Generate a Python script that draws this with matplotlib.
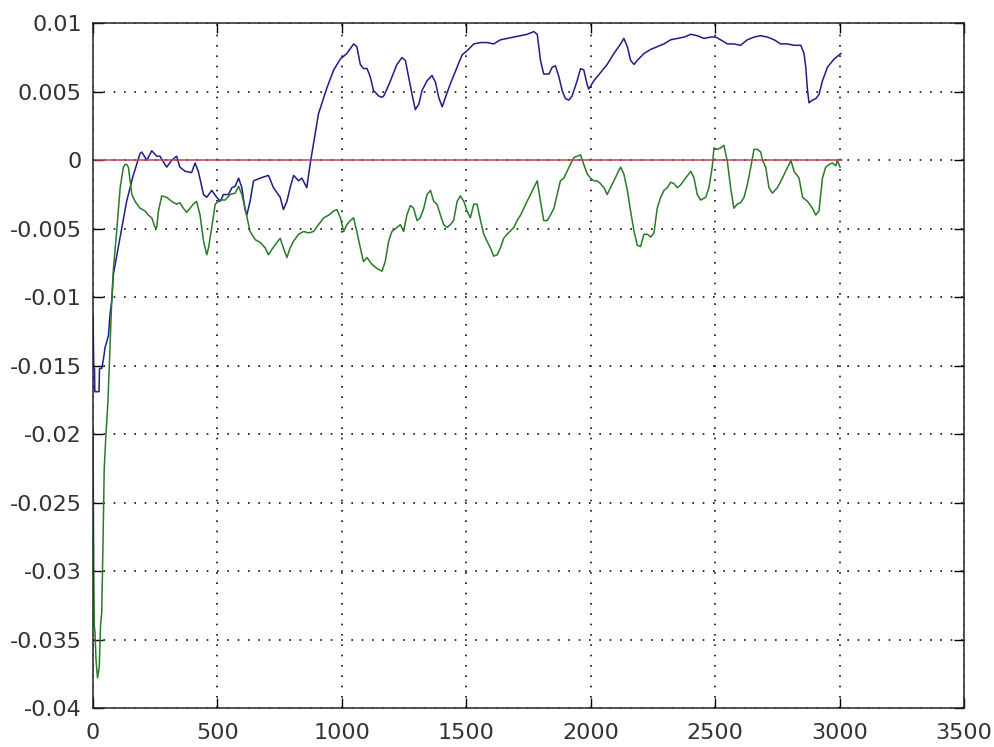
import matplotlib
matplotlib.use("Agg")
import matplotlib.pyplot as plt

# blue trace
blue_x = [0, 3, 6, 7, 24, 26, 35, 42, 48, 62, 68, 75, 82, 110, 135, 160, 189, 196, 216, 236,
          256, 269, 296, 316, 336, 349, 370, 396, 410, 423, 444, 457, 477, 497, 511, 524,
          544, 558, 571, 585, 598, 611, 618, 631, 645, 672, 705, 725, 752, 765, 779, 792,
          806, 826, 839, 859, 873, 886, 906, 940, 967, 994, 1020, 1047, 1060, 1074, 1087,
          1101, 1114, 1127, 1148, 1161, 1168, 1181, 1195, 1208, 1221, 1241, 1255, 1268,
          1282, 1295, 1309, 1322, 1342, 1362, 1376, 1389, 1403, 1416, 1436, 1463, 1483,
          1503, 1530, 1557, 1583, 1610, 1637, 1664, 1691, 1718, 1744, 1771, 1785, 1798,
          1811, 1832, 1845, 1858, 1872, 1885, 1898, 1912, 1925, 1945, 1959, 1972, 1986,
          1992, 2012, 2039, 2066, 2093, 2120, 2133, 2147, 2160, 2174, 2187, 2214, 2241,
          2267, 2294, 2321, 2348, 2375, 2402, 2428, 2455, 2482, 2502, 2522, 2549, 2575,
          2602, 2629, 2656, 2683, 2710, 2737, 2763, 2790, 2817, 2844, 2857, 2864, 2870,
          2877, 2891, 2904, 2917, 2931, 2951, 2978, 2998, 3005]
blue_y = [-0.0113, -0.0152, -0.0152, -0.0169, -0.0169, -0.0152, -0.0152, -0.0145, -0.0137,
          -0.0128, -0.0113, -0.0103, -0.0083, -0.0055, -0.0030, -0.0012, 0.0005, 0.0006,
          0.0000, 0.0007, 0.0003, 0.0003, -0.0005, 0.0000, 0.0003, -0.0005, -0.0008,
          -0.0009, -0.0002, -0.0008, -0.0025, -0.0027, -0.0022, -0.0027, -0.0030, -0.0025,
          -0.0025, -0.0020, -0.0019, -0.0013, -0.0020, -0.0036, -0.0040, -0.0030, -0.0015,
          -0.0013, -0.0011, -0.0020, -0.0027, -0.0036, -0.0030, -0.0020, -0.0011, -0.0015,
          -0.0013, -0.0020, -0.0002, 0.0012, 0.0034, 0.0053, 0.0066, 0.0074, 0.0078, 0.0085,
          0.0083, 0.0070, 0.0067, 0.0067, 0.0061, 0.0051, 0.0047, 0.0046, 0.0047, 0.0052,
          0.0058, 0.0064, 0.0070, 0.0075, 0.0073, 0.0061, 0.0048, 0.0037, 0.0041, 0.0051,
          0.0058, 0.0062, 0.0057, 0.0046, 0.0039, 0.0046, 0.0056, 0.0068, 0.0077, 0.0080,
          0.0085, 0.0086, 0.0086, 0.0085, 0.0088, 0.0089, 0.0090, 0.0091, 0.0092, 0.0094,
          0.0092, 0.0073, 0.0063, 0.0063, 0.0068, 0.0069, 0.0061, 0.0051, 0.0045, 0.0044,
          0.0047, 0.0058, 0.0067, 0.0066, 0.0055, 0.0052, 0.0058, 0.0064, 0.0070, 0.0078,
          0.0085, 0.0089, 0.0083, 0.0073, 0.0070, 0.0073, 0.0078, 0.0081, 0.0083, 0.0085,
          0.0088, 0.0089, 0.0090, 0.0092, 0.0091, 0.0089, 0.0090, 0.0090, 0.0088, 0.0085,
          0.0085, 0.0084, 0.0088, 0.0090, 0.0091, 0.0090, 0.0088, 0.0085, 0.0085, 0.0084,
          0.0084, 0.0078, 0.0068, 0.0053, 0.0042, 0.0044, 0.0045, 0.0048, 0.0058, 0.0068,
          0.0074, 0.0077, 0.0078]

# green trace
green_x = [0, 3, 5, 8, 12, 18, 25, 30, 35, 40, 45, 52, 60, 68, 75, 82, 95, 109, 122, 129,
           135, 142, 149, 156, 169, 189, 209, 222, 236, 249, 256, 263, 276, 296, 316, 336,
           349, 363, 376, 390, 403, 416, 430, 444, 457, 464, 477, 491, 511, 531, 551, 571,
           585, 598, 611, 631, 652, 672, 692, 705, 719, 739, 752, 765, 779, 792, 806, 826,
           846, 866, 886, 906, 927, 947, 967, 980, 994, 1007, 1020, 1034, 1047, 1060, 1074,
           1087, 1101, 1121, 1141, 1161, 1174, 1188, 1201, 1221, 1235, 1248, 1261, 1275,
           1288, 1302, 1315, 1329, 1342, 1356, 1369, 1382, 1396, 1409, 1423, 1436, 1449,
           1463, 1476, 1490, 1503, 1516, 1530, 1543, 1557, 1570, 1583, 1597, 1610, 1624,
           1637, 1650, 1664, 1691, 1704, 1718, 1731, 1744, 1758, 1771, 1785, 1798, 1811,
           1825, 1838, 1852, 1865, 1878, 1892, 1905, 1918, 1932, 1945, 1959, 1972, 1986,
           1999, 2012, 2026, 2039, 2053, 2066, 2079, 2093, 2106, 2120, 2133, 2147, 2160,
           2174, 2187, 2200, 2214, 2227, 2241, 2254, 2267, 2281, 2294, 2308, 2321, 2334,
           2348, 2361, 2381, 2402, 2415, 2428, 2442, 2462, 2475, 2488, 2495, 2509, 2522,
           2535, 2549, 2562, 2575, 2589, 2602, 2616, 2629, 2643, 2656, 2669, 2683, 2690,
           2703, 2716, 2730, 2750, 2770, 2783, 2797, 2804, 2817, 2837, 2851, 2871, 2891,
           2904, 2917, 2931, 2944, 2958, 2971, 2985, 2991, 3002]
green_y = [-0.0195, -0.0300, -0.0340, -0.0345, -0.0365, -0.0378, -0.0370, -0.0340, -0.0330,
           -0.0280, -0.0225, -0.0200, -0.0176, -0.0137, -0.0103, -0.0079, -0.0052, -0.0020,
           -0.0005, -0.0003, -0.0003, -0.0005, -0.0015, -0.0025, -0.0030, -0.0035, -0.0037,
           -0.0040, -0.0042, -0.0049, -0.0049, -0.0037, -0.0026, -0.0027, -0.0030, -0.0032,
           -0.0031, -0.0035, -0.0038, -0.0035, -0.0032, -0.0030, -0.0040, -0.0059, -0.0069,
           -0.0064, -0.0049, -0.0032, -0.0029, -0.0029, -0.0025, -0.0024, -0.0019, -0.0025,
           -0.0035, -0.0052, -0.0058, -0.0060, -0.0064, -0.0069, -0.0065, -0.0060, -0.0057,
           -0.0064, -0.0071, -0.0064, -0.0059, -0.0054, -0.0052, -0.0053, -0.0052, -0.0047,
           -0.0042, -0.0040, -0.0037, -0.0036, -0.0042, -0.0052, -0.0047, -0.0044, -0.0042,
           -0.0052, -0.0064, -0.0074, -0.0071, -0.0076, -0.0079, -0.0081, -0.0074, -0.0059,
           -0.0052, -0.0049, -0.0047, -0.0052, -0.0040, -0.0033, -0.0035, -0.0044, -0.0042,
           -0.0035, -0.0025, -0.0022, -0.0030, -0.0032, -0.0040, -0.0047, -0.0049, -0.0047,
           -0.0044, -0.0030, -0.0026, -0.0030, -0.0037, -0.0042, -0.0032, -0.0032, -0.0044,
           -0.0054, -0.0059, -0.0064, -0.0070, -0.0069, -0.0064, -0.0057, -0.0054, -0.0049,
           -0.0044, -0.0040, -0.0035, -0.0030, -0.0025, -0.0020, -0.0015, -0.0030, -0.0044,
           -0.0044, -0.0040, -0.0035, -0.0025, -0.0015, -0.0013, -0.0008, -0.0003, 0.0002,
           0.0003, 0.0004, -0.0003, -0.0010, -0.0013, -0.0015, -0.0015, -0.0017, -0.0020,
           -0.0025, -0.0020, -0.0015, -0.0010, -0.0005, -0.0010, -0.0022, -0.0037, -0.0052,
           -0.0062, -0.0063, -0.0054, -0.0054, -0.0056, -0.0053, -0.0035, -0.0027, -0.0022,
           -0.0020, -0.0016, -0.0017, -0.0020, -0.0018, -0.0013, -0.0008, -0.0013, -0.0025,
           -0.0029, -0.0027, -0.0020, -0.0005, 0.0009, 0.0008, 0.0009, 0.0011, -0.0001,
           -0.0020, -0.0035, -0.0032, -0.0031, -0.0027, -0.0018, -0.0005, 0.0008, 0.0008,
           0.0006, 0.0000, -0.0005, -0.0020, -0.0024, -0.0020, -0.0013, -0.0008, -0.0003,
           0.0000, -0.0008, -0.0013, -0.0027, -0.0030, -0.0035, -0.0040, -0.0037, -0.0013,
           -0.0005, -0.0003, -0.0002, -0.0004, 0.0000, -0.0005]

# zero reference line
ref_x = [0, 3010]
ref_y = [0, 0]

x_ticks = [0, 500, 1000, 1500, 2000, 2500, 3000, 3500]
y_ticks = [-0.04, -0.035, -0.03, -0.025, -0.02, -0.015, -0.01, -0.005, 0, 0.005, 0.01]
y_labels = ["-0.04", "-0.035", "-0.03", "-0.025", "-0.02", "-0.015", "-0.01",
            "-0.005", "0", "0.005", "0.01"]

plt.rcParams["font.family"] = ["DejaVu Sans"]

fig = plt.figure(figsize=(9.95, 7.47), dpi=100)
ax = fig.add_axes([0.0935, 0.0522, 0.8754, 0.9165])

ax.plot(blue_x, blue_y, color="#1e1e88", linewidth=1.1)
ax.plot(green_x, green_y, color="#2a7a2a", linewidth=1.1)
ax.plot(ref_x, ref_y, color="#c0404c", linewidth=1.1)

ax.set_xlim(0, 3500)
ax.set_ylim(-0.04, 0.01)
ax.set_xticks(x_ticks)
ax.set_xticklabels([str(t) for t in x_ticks])
ax.set_yticks(y_ticks)
ax.set_yticklabels(y_labels)

ax.grid(True, color="#111111", linestyle=(0, (1, 5.2)), linewidth=1.2)
ax.tick_params(direction="in", length=7.5, width=1, top=True, right=True,
               labelsize=16, colors="black", labelcolor="#333333")
ax.tick_params(axis="y", pad=8)
ax.tick_params(axis="x", pad=11)
for s in ax.spines.values():
    s.set_linewidth(1.1)
    s.set_color("#222222")

fig.savefig("out.png", dpi=100, facecolor="white")
